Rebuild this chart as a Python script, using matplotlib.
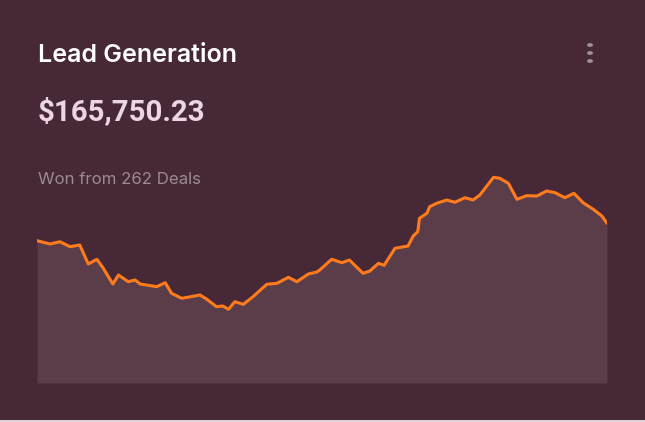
import matplotlib.pyplot as plt
from matplotlib.patches import Rectangle, Circle

# ---------------------------------------------------------
# Data
# ---------------------------------------------------------
title = "Lead Generation"
total = "$165,750.23"
subtitle = "Won from 262 Deals"

day = [0, 2.3, 4.0, 5.8, 7.5, 9.0, 10.5, 11.6, 13.3, 14.3, 16.0, 17.2, 18.1,
       21.0, 22.5, 23.6, 25.4, 28.6, 29.8, 31.5, 32.6, 33.6, 34.7, 36.2, 37.9,
       40.3, 42.1, 44.1, 45.6, 47.6, 49.1, 49.6, 51.7, 53.5, 54.8, 57.2, 58.4,
       59.9, 60.9, 62.8, 65.1, 66.0, 66.8, 67.1, 68.4, 68.9, 70.1, 71.9, 73.3,
       75.1, 76.5, 77.7, 80.1, 81.2, 82.7, 84.2, 85.9, 87.7, 89.4, 90.9, 92.6,
       94.2, 95.8, 97.6, 99.1, 100]
value = [142.3, 139, 141.3, 136.3, 138, 119, 123.7, 115, 99, 108, 101.3, 103,
         99, 96.3, 100.3, 89.7, 84.7, 88, 83.7, 76.3, 77, 73.7, 81.3, 78.7,
         86.3, 98.7, 99.7, 105.7, 101.3, 109, 111, 113, 123.7, 120.3, 123,
         109.7, 112, 119.7, 117.7, 134.7, 137, 147, 151.3, 164.7, 169.7, 176.3,
         179.7, 183, 180.7, 185.3, 183, 188, 205.7, 204.7, 199.7, 183.7, 187.3,
         187, 192, 190.3, 185.3, 189.7, 180.3, 173.7, 167, 159.7]

# ---------------------------------------------------------
# Styling
# ---------------------------------------------------------
bg = '#472836'
fill_color = '#5a3d49'
line_color = '#ff7b1c'

W, H = 645, 422
fig = plt.figure(figsize=(W / 100, H / 100), dpi=100)
fig.patch.set_facecolor(bg)

# plot area: x 37..607 px, y 170..383 px (from top)
ax = fig.add_axes([37 / W, (H - 383) / H, 570 / W, 213 / H])
ax.set_facecolor('none')
ax.fill_between(day, value, 0, color=fill_color, lw=0)
ax.plot(day, value, color=line_color, lw=2.2, solid_joinstyle='round',
        solid_capstyle='round')
ax.set_xlim(0, 100)
ax.set_ylim(0, 213)
ax.axis('off')

font = ['Inter', 'DejaVu Sans']
t1 = fig.text(38 / W, 1 - 62 / H, title, color='white', fontsize=15,
              family=font, fontweight='semibold', va='baseline')
t2 = fig.text(38 / W, 1 - 120 / H, total, color='#ecd6e4', fontsize=21.5,
              family=['Roboto', 'DejaVu Sans'], fontweight='bold',
              va='baseline')
t3 = fig.text(38 / W, 1 - 184 / H, subtitle, color='#9c8b95', fontsize=11.5,
              family=font, va='baseline')

# fit text widths to the reference (pixels)
renderer = fig.canvas.get_renderer()
for t, target in ((t1, 199), (t2, 168), (t3, 163)):
    w = t.get_window_extent(renderer).width
    t.set_fontsize(t.get_fontsize() * target / w)

# kebab menu dots
for cy in (45, 53, 61):
    fig.patches.append(Circle((590 / W, 1 - cy / H), 3 / W, color='#9d8e98',
                              transform=fig.transFigure,
                              lw=0))

# thin light strip at the bottom edge
fig.patches.append(Rectangle((0, 0), 1, 2.5 / H, color='#ddd3db',
                             transform=fig.transFigure, lw=0))

plt.savefig('out.png', dpi=100, facecolor=bg)
